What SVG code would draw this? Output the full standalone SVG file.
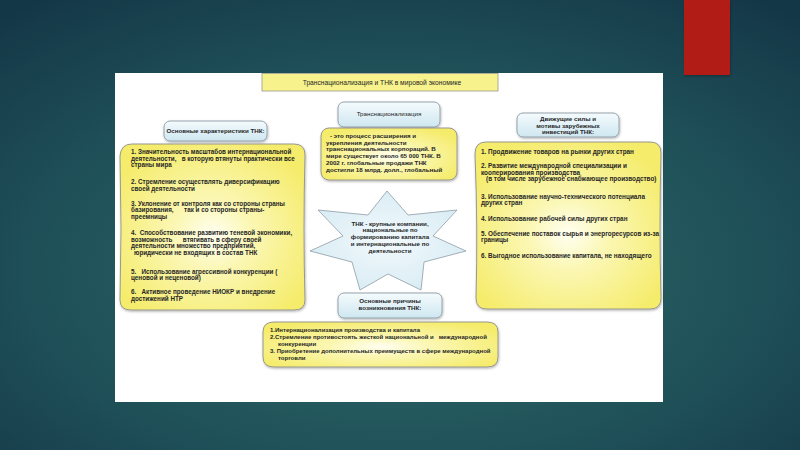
<svg xmlns="http://www.w3.org/2000/svg" width="800" height="450" viewBox="0 0 800 450">
<defs>
<radialGradient id="bg" cx="0.5" cy="0.6" r="0.75">
<stop offset="0" stop-color="#2d6d6a"/>
<stop offset="0.6" stop-color="#1f5058"/>
<stop offset="1" stop-color="#143747"/>
</radialGradient>
<radialGradient id="yel" cx="0.5" cy="0.55" r="0.6">
<stop offset="0" stop-color="#fffff2"/>
<stop offset="0.35" stop-color="#fbf7b4"/>
<stop offset="1" stop-color="#f5ec6c"/>
</radialGradient>
<linearGradient id="blu" x1="0" y1="0" x2="0" y2="1">
<stop offset="0" stop-color="#f4fbfd"/>
<stop offset="1" stop-color="#cfe7f0"/>
</linearGradient>
<radialGradient id="starg" cx="0.5" cy="0.5" r="0.6">
<stop offset="0" stop-color="#f2f9fc"/>
<stop offset="1" stop-color="#d6ebf3"/>
</radialGradient>
<filter id="sh" x="-10%" y="-10%" width="120%" height="130%">
<feDropShadow dx="0.6" dy="1.2" stdDeviation="0.8" flood-color="#000" flood-opacity="0.3"/>
</filter>
</defs>
<style>
.t{font-family:"Liberation Sans",Arial,sans-serif;font-size:6.2px;font-weight:bold;fill:#262626;white-space:pre}
.l{font-size:6.3px}
.r{font-size:6.4px}
.b{font-size:6px}
.c{text-anchor:middle}
.ybox{fill:url(#yel);stroke:#8e8e8a;stroke-width:0.9}
.bbox{fill:url(#blu);stroke:#8c9ba6;stroke-width:0.9}
</style>
<rect x="0" y="0" width="800" height="450" fill="url(#bg)"/>
<rect x="684" y="0" width="46" height="75" fill="#b11b19" filter="url(#sh)"/>
<rect x="115" y="73" width="548" height="329" fill="#ffffff"/>

<g id="title">
<rect x="262" y="73.5" width="236" height="17.5" fill="#f8f28c" stroke="#9a9a8a" stroke-width="0.8"/>
<text class="t c" x="382" y="85" style="font-weight:normal;font-size:6.7px">Транснационализация и ТНК в мировой экономике</text>
</g>

<g id="header-left">
<rect class="bbox" x="164" y="121" width="103" height="20" rx="6" filter="url(#sh)"/>
<text class="t c" x="215.5" y="133">Основные характеристики ТНК:</text>
</g>

<g id="box-left">
<path class="ybox" filter="url(#sh)" d="M132,144 L294,144 Q305,144 305,155 Q303,230 305,300 Q305,310 294,310 L131,310 Q120,310 120,300 Q122,230 120,156 Q121,144 132,144 Z"/>
<text class="t l" x="131" y="154">1. Значительность масштабов интернациональной</text>
<text class="t l" x="131" y="160.7">деятельности,   в которую втянуты практически все</text>
<text class="t l" x="131" y="167.4">страны мира</text>
<text class="t l" x="131" y="184">2. Стремление осуществлять диверсификацию</text>
<text class="t l" x="131" y="190.7">своей деятельности</text>
<text class="t l" x="131" y="205.5">3. Уклонение от контроля как со стороны страны</text>
<text class="t l" x="131" y="212.2">базирования,      так и со стороны страны-</text>
<text class="t l" x="131" y="218.9">преемницы</text>
<text class="t l" x="131" y="235">4.  Способствование развитию теневой экономики,</text>
<text class="t l" x="131" y="241.7">возможность      втягивать в сферу своей</text>
<text class="t l" x="131" y="248.4">деятельности множество предприятий,</text>
<text class="t l" x="134" y="255.1">юридически не входящих в состав ТНК</text>
<text class="t l" x="131" y="273.5">5.   Использование агрессивной конкуренции (</text>
<text class="t l" x="131" y="280.2">ценовой и неценовой)</text>
<text class="t l" x="131" y="294">6.   Активное проведение НИОКР и внедрение</text>
<text class="t l" x="131" y="300.7">достижений НТР</text>
</g>

<g id="header-middle">
<rect class="bbox" x="338" y="102" width="102" height="25" rx="6" filter="url(#sh)"/>
<text class="t c" x="389" y="116" style="font-weight:normal">Транснационализация</text>
</g>

<g id="box-middle">
<rect class="ybox" x="321" y="128" width="136" height="52" rx="8" filter="url(#sh)"/>
<text class="t" x="330" y="138">- это процесс расширения и</text>
<text class="t" x="326" y="144.7">укрепления деятельности</text>
<text class="t" x="326" y="151.4">транснациональных корпораций. В</text>
<text class="t" x="326" y="158.1">мире существует около 65 000 ТНК. В</text>
<text class="t" x="326" y="164.8">2002 г. глобальные продажи ТНК</text>
<text class="t" x="326" y="171.5">достигли 18 млрд. долл., глобальный</text>
</g>

<g id="star">
<polygon fill="url(#starg)" stroke="#8e9ca6" stroke-width="0.8" points="387,191 408,215 457,210 433,236 466,251 424,262 421,290 388,274 360,290 352,262 310,251 343,236 318,210 368,215"/>
<text class="t c" x="390" y="225.5">ТНК - крупные компании,</text>
<text class="t c" x="390" y="232.3">национальные по</text>
<text class="t c" x="390" y="239.1">формированию капитала</text>
<text class="t c" x="390" y="245.9">и интернациональные по</text>
<text class="t c" x="390" y="252.7">деятельности</text>
</g>

<g id="header-right">
<rect class="bbox" x="517" y="113" width="102" height="24" rx="6" filter="url(#sh)"/>
<text class="t c" x="568" y="121">Движущие силы и</text>
<text class="t c" x="568" y="127.7">мотивы зарубежных</text>
<text class="t c" x="568" y="134.4">инвестиций ТНК:</text>
</g>

<g id="box-right">
<path class="ybox" filter="url(#sh)" d="M486,142 L650,142 Q661,142 661,153 Q659,230 661,298 Q661,309 650,309 L487,309 Q476,309 476,298 Q478,230 475,154 Q475,142 486,142 Z"/>
<text class="t r" x="481" y="154">1. Продвижение товаров на рынки других стран</text>
<text class="t r" x="481" y="168">2. Развитие международной специализации и</text>
<text class="t r" x="481" y="174.7">кооперирования производства</text>
<text class="t r" x="486" y="181.4">(в том числе зарубежное снабжающее производство)</text>
<text class="t r" x="481" y="198.5">3. Использование научно-технического потенциала</text>
<text class="t r" x="481" y="205.2">других стран</text>
<text class="t r" x="481" y="220.5">4. Использование рабочей силы других стран</text>
<text class="t r" x="481" y="235.5">5. Обеспечение поставок сырья и энергоресурсов из-за</text>
<text class="t r" x="481" y="242.2">границы</text>
<text class="t r" x="481" y="257.5">6. Выгодное использование капитала, не находящего</text>
</g>

<g id="header-bottom">
<rect class="bbox" x="338" y="293" width="104" height="25" rx="6" filter="url(#sh)"/>
<text class="t c" x="390" y="303">Основные причины</text>
<text class="t c" x="390" y="310.3">возникновения ТНК:</text>
</g>

<g id="box-bottom">
<path class="ybox" filter="url(#sh)" d="M274,322 L487,322 Q498,322 498,332 L498,357 Q498,367 487,367 L274,367 Q263,367 263,357 L263,332 Q263,322 274,322 Z"/>
<text class="t b" x="270" y="332">1.Интернационализация производства и капитала</text>
<text class="t b" x="270" y="339">2.Стремление противостоять жесткой национальной и   международной</text>
<text class="t b" x="278" y="346">конкуренции</text>
<text class="t b" x="270" y="353">3. Приобретение дополнительных преимуществ в сфере международной</text>
<text class="t b" x="278" y="360">торговли</text>
</g>

<g id="connectors"/>
</svg>
